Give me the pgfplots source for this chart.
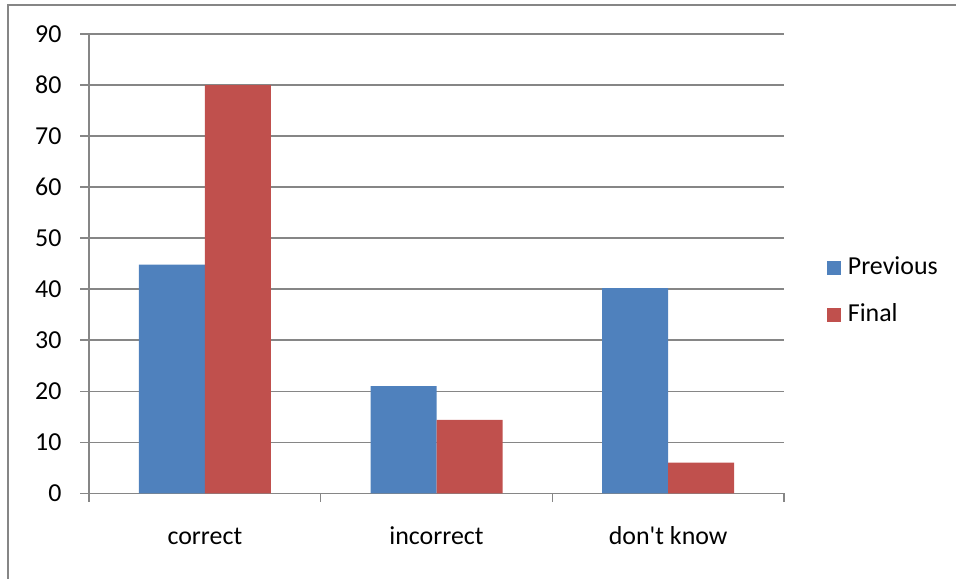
\documentclass[border=0pt]{standalone}
\usepackage{fontspec}
\setmainfont{Carlito}
\usepackage{pgfplots}
\pgfplotsset{compat=1.18}

\definecolor{prevblue}{HTML}{4F81BD}
\definecolor{finalred}{HTML}{C0504D}
\definecolor{axisgray}{HTML}{868686}

\begin{document}
\fontsize{19.5}{23}\selectfont
\begin{tikzpicture}
  % page frame
  \useasboundingbox (0,0) rectangle (717bp,434.25bp);
  \draw[axisgray, line width=1.5bp] (6bp,0) -- (6bp,430.5bp) -- (717bp,430.5bp);

  \begin{axis}[
    at={(66.75bp,64.25bp)}, anchor=south west,
    scale only axis,
    width=521.25bp, height=344.5bp,
    xmin=-0.5, xmax=2.5,
    ymin=0, ymax=90,
    ytick={0,10,...,90},
    xtick={-0.5,0.5,1.5,2.5},
    x tick label as interval,
    xticklabels={correct,incorrect,{don\textquotesingle t know}},
    axis x line*=bottom,
    axis y line*=left,
    axis line style={axisgray, line width=1.1bp, -},
    tick style={axisgray, line width=1.1bp},
    tick align=outside,
    major tick length=6.5bp,
    ymajorgrids,
    grid style={axisgray, line width=1.1bp},
    /pgf/number format/assume math mode=true,
    ticklabel style={font=\fontsize{19.5}{23}\selectfont, text=black},
    yticklabel style={inner sep=0pt, anchor=east, xshift=-14bp},
    xticklabel style={inner sep=0pt, anchor=base, yshift=-32bp},
    ybar=0pt,
    bar width=49.5bp,
    legend style={
      at={(1.0618,0.4394)}, anchor=west,
      draw=none, fill=none, inner sep=0pt,
      font=\fontsize{19.5}{23}\selectfont,
      nodes={inner sep=0pt, anchor=west, text height=13bp, text depth=3bp},
      row sep=19bp, column sep=5bp,
    },
    legend cell align=left,
  ]
    \addplot[fill=prevblue, draw=none,
      legend image code/.code={\fill[prevblue] (0bp,-5.25bp) rectangle (10.5bp,5.25bp);}]
      coordinates {(0,44.8) (1,21.0) (2,40.2)};
    \addlegendentry{Previous}
    \addplot[fill=finalred, draw=none,
      legend image code/.code={\fill[finalred] (0bp,-5.25bp) rectangle (10.5bp,5.25bp);}]
      coordinates {(0,80.0) (1,14.4) (2,6.0)};
    \addlegendentry{Final}
  \end{axis}
\end{tikzpicture}
\end{document}
